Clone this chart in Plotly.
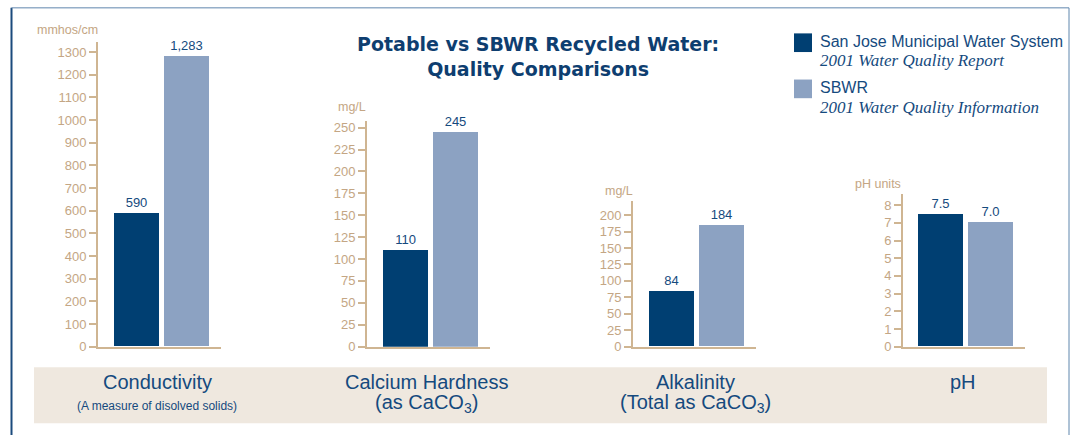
import plotly.graph_objects as go

# ---- data ----
categories = ["Conductivity", "Calcium Hardness", "Alkalinity", "pH"]
cat_sublabels = ["(A measure of disolved solids)", "(as CaCO<sub>3</sub>)",
                 "(Total as CaCO<sub>3</sub>)", ""]
units = ["mmhos/cm", "mg/L", "mg/L", "pH units"]
san_jose = [590, 110, 84, 7.5]
sbwr = [1283, 245, 184, 7.0]
label_formats = [",.0f", ",.0f", ",.0f", ".1f"]
tick_steps = [100, 25, 25, 1]
tick_max = [1300, 250, 200, 8]
axis_max = [1343, 257.8, 221, 8.61]
series_names = ["San Jose Municipal Water System", "SBWR"]
series_notes = ["2001 Water Quality Report", "2001 Water Quality Information"]

# ---- style ----
W, H = 1072, 443
DARK = "#003f72"
LIGHT = "#8ca2c2"
TAN = "#c4a684"
AXIS = "#cfb592"
BLUE_TXT = "#154a7e"
BAND = "#efe8df"
FONT = "Liberation Sans, Arial, sans-serif"


def px(x):
    return x / W


def py(y):
    return 1 - y / H


# panel geometry in pixels: (x0, x1, y_top)
panels = [(98, 221, 43), (367, 490, 123), (633, 756, 205), (903, 1025, 198)]
BASE = 353
cat_centers = [157, 426, 695, 963]
unit_pos = [(67, 31), (352, 109), (619, 195), (878, 187)]

fig = go.Figure()
layout = dict(
    width=W, height=H, margin=dict(l=0, r=0, t=0, b=0),
    paper_bgcolor="white", plot_bgcolor="rgba(0,0,0,0)",
    showlegend=False, bargap=0,
    font=dict(family=FONT),
)

for i, (x0, x1, ytop) in enumerate(panels):
    n = "" if i == 0 else str(i + 1)
    fig.add_trace(go.Bar(
        x=[0, 1], y=[san_jose[i], sbwr[i]],
        width=0.9,
        marker=dict(color=[DARK, LIGHT], line=dict(width=0)),
        texttemplate="%{y:" + label_formats[i] + "}",
        textposition="outside",
        textfont=dict(color=BLUE_TXT, size=13, family=FONT),
        cliponaxis=False,
        xaxis="x" + n, yaxis="y" + n,
        hoverinfo="skip",
    ))
    tickvals = []
    v = 0
    while v <= tick_max[i] + 1e-9:
        tickvals.append(v)
        v += tick_steps[i]
    layout["xaxis" + n] = dict(
        domain=[px(x0), px(x1)], range=[-0.76, 1.7], anchor="y" + n,
        showticklabels=False, ticks="", showgrid=False, zeroline=False,
        showline=True, linecolor=AXIS, linewidth=2, fixedrange=True,
    )
    layout["yaxis" + n] = dict(
        domain=[py(BASE), py(ytop)], range=[0, axis_max[i]], anchor="x" + n,
        tickvals=tickvals, ticks="outside", ticklen=7, tickwidth=1.5,
        tickcolor=AXIS, tickfont=dict(color=TAN, size=13, family=FONT),
        showgrid=False, zeroline=False, showline=True, linecolor=AXIS,
        linewidth=2, fixedrange=True,
    )

shapes = []
annotations = []

# frame
shapes.append(dict(type="line", xref="paper", yref="paper",
                   x0=px(11.5), x1=px(11.5), y0=py(8), y1=py(443),
                   line=dict(color="#1b4b7d", width=2)))
shapes.append(dict(type="line", xref="paper", yref="paper",
                   x0=px(11.5), x1=px(1069), y0=py(8), y1=py(8),
                   line=dict(color="#5f86ad", width=1)))
shapes.append(dict(type="line", xref="paper", yref="paper",
                   x0=px(1069), x1=px(1069), y0=py(8), y1=py(443),
                   line=dict(color="#5f86ad", width=1)))
# category band
shapes.append(dict(type="rect", xref="paper", yref="paper", layer="below",
                   x0=px(34), x1=px(1047), y0=py(431), y1=py(374),
                   fillcolor=BAND, line=dict(width=0)))

# category labels
for i, c in enumerate(categories):
    annotations.append(dict(xref="paper", yref="paper", x=px(cat_centers[i]),
                            y=py(389), text=c, showarrow=False,
                            xanchor="center", yanchor="middle",
                            font=dict(color=BLUE_TXT, size=20, family=FONT)))
    if cat_sublabels[i]:
        small = i == 0
        annotations.append(dict(xref="paper", yref="paper", x=px(cat_centers[i]),
                                y=py(413 if small else 411), text=cat_sublabels[i],
                                showarrow=False, xanchor="center", yanchor="middle",
                                font=dict(color=BLUE_TXT, size=12 if small else 20,
                                          family=FONT)))
# unit labels
for i, u in enumerate(units):
    ux, uy = unit_pos[i]
    annotations.append(dict(xref="paper", yref="paper", x=px(ux), y=py(uy),
                            text=u, showarrow=False, xanchor="center",
                            yanchor="middle",
                            font=dict(color=TAN, size=12.5, family=FONT)))

# title
annotations.append(dict(xref="paper", yref="paper", x=px(538), y=py(57.5),
                        text="<b>Potable vs SBWR Recycled Water:<br>Quality Comparisons</b>",
                        showarrow=False, xanchor="center", yanchor="middle",
                        font=dict(color="#0e3e70", size=19,
                                  family="DejaVu Sans, sans-serif")))

# legend
leg_colors = [DARK, LIGHT]
leg_sq_top = [34, 81]
leg_name_y = [42, 89]
leg_note_y = [62, 109]
for k in range(2):
    shapes.append(dict(type="rect", xref="paper", yref="paper",
                       x0=px(794), x1=px(812), y0=py(leg_sq_top[k] + 19),
                       y1=py(leg_sq_top[k]), fillcolor=leg_colors[k],
                       line=dict(width=0)))
    annotations.append(dict(xref="paper", yref="paper", x=px(818),
                            y=py(leg_name_y[k]), text=series_names[k],
                            showarrow=False, xanchor="left", yanchor="middle",
                            font=dict(color=BLUE_TXT, size=16, family=FONT)))
    annotations.append(dict(xref="paper", yref="paper", x=px(818),
                            y=py(leg_note_y[k]), text="<i>" + series_notes[k] + "</i>",
                            showarrow=False, xanchor="left", yanchor="middle",
                            font=dict(color=BLUE_TXT, size=17,
                                      family="Liberation Serif, Times New Roman, serif")))

layout["shapes"] = shapes
layout["annotations"] = annotations
fig.update_layout(**layout)

post = (
    "var s=document.createElement('style');"
    "s.textContent='html,body{margin:0;padding:0;overflow:hidden;width:1072px;height:443px;}"
    ".plotly-graph-div{display:block;}';"
    "document.head.appendChild(s);"
    "window.scrollTo(0,0);"
)
fig.write_html("out.html", config={"displayModeBar": False}, post_script=post)
